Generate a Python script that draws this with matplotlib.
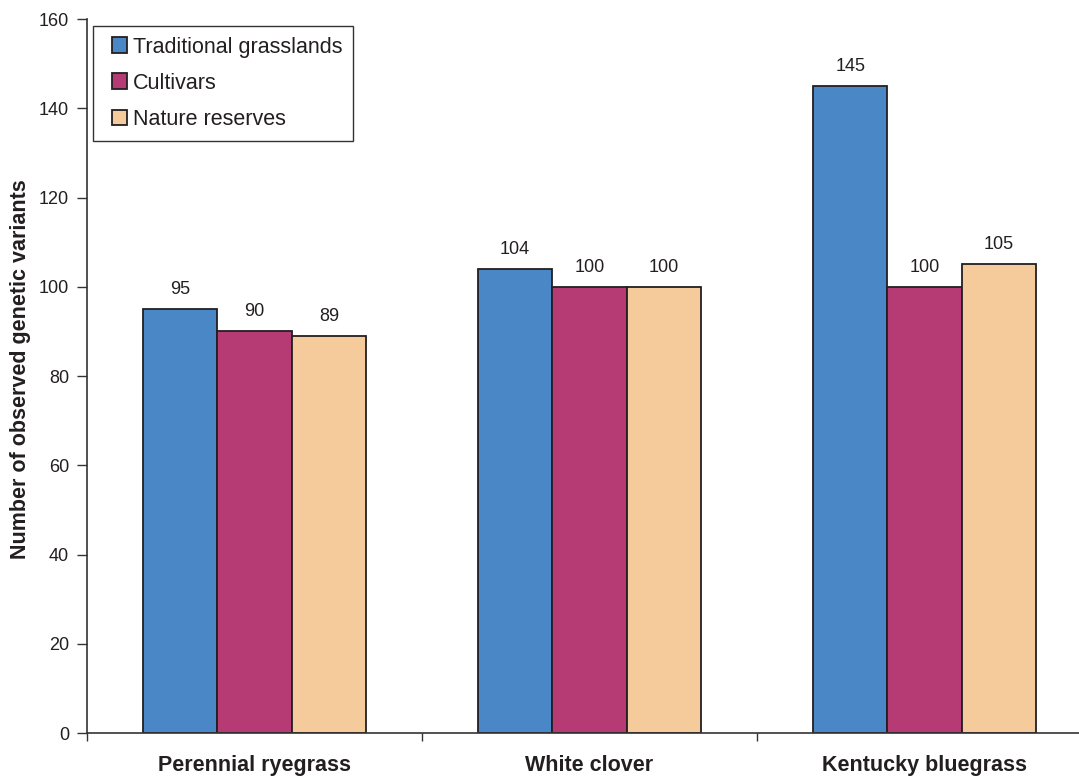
import numpy as np
import matplotlib
matplotlib.use("Agg")
import matplotlib.pyplot as plt
from matplotlib.patches import Rectangle
from matplotlib.container import BarContainer
from matplotlib.legend_handler import HandlerPatch, update_from_first_child

# Genetic variants observed per species and source
species = ["Perennial ryegrass", "White clover", "Kentucky bluegrass"]
sources = ["Traditional grasslands", "Cultivars", "Nature reserves"]
traditional = [95, 104, 145]
cultivars = [90, 100, 100]
reserves = [89, 100, 105]

colors = ["#4A87C6", "#B63A74", "#F6CB9B"]
edge = "#231F20"
text_c = "#231F20"

plt.rcParams["font.family"] = ["Liberation Sans", "DejaVu Sans"]

W, H = 1079, 778
fig = plt.figure(figsize=(W / 100, H / 100), dpi=100)
ax = fig.add_axes([87 / W, 45 / H, 1005 / W, 714 / H])

x = np.arange(len(species))
width = 0.222
for i, (vals, name, c) in enumerate(zip([traditional, cultivars, reserves], sources, colors)):
    pos = x + (i - 1) * width
    bars = ax.bar(pos, vals, width, color=c, edgecolor=edge, linewidth=1.3, label=name, zorder=2)
    for b, v in zip(bars, vals):
        ax.annotate(f"{v}", (b.get_x() + b.get_width() / 2, v), xytext=(0, 8),
                    textcoords="offset points", ha="center", va="bottom",
                    fontsize=13, color=text_c)

ax.set_xlim(-0.5, 2.5)
ax.set_ylim(0, 160)
ax.set_yticks(np.arange(0, 161, 20))
ax.set_xticks(x)
ax.set_xticklabels(species, fontsize=15.5, fontweight="bold", color=text_c)
ax.set_xticks([-0.5, 0.5, 1.5, 2.5], minor=True)
ax.tick_params(axis="x", which="major", length=0, pad=16)
ax.tick_params(axis="x", which="minor", length=6, width=1, color="#333333", direction="out")
ax.tick_params(axis="y", length=7, width=1, color="#333333", labelsize=13,
               labelcolor=text_c, pad=6)

for s in ["top", "right"]:
    ax.spines[s].set_visible(False)
for s in ["left", "bottom"]:
    ax.spines[s].set_color("#333333")
    ax.spines[s].set_linewidth(1.2)

ax.set_ylabel("Number of observed genetic variants", fontsize=15.5, fontweight="bold",
              color=text_c)
ax.yaxis.set_label_coords(-0.056, 0.51)


def square_patch(legend, orig_handle, xdescent, ydescent, width, height, fontsize):
    # square swatch pushed to the right end of the handle box
    return Rectangle((-xdescent + width - height, -ydescent), height, height)


leg = ax.legend(loc="upper left", bbox_to_anchor=(6 / 1005, 1 - 7 / 714), borderaxespad=0,
                fontsize=15.5, handlelength=1.1, handleheight=0.75, handletextpad=0.25,
                labelspacing=0.7, borderpad=0.5, fancybox=False, framealpha=1,
                edgecolor="#333333",
                handler_map={BarContainer: HandlerPatch(patch_func=square_patch,
                                                        update_func=update_from_first_child)})
leg.get_frame().set_linewidth(1.0)
for t in leg.get_texts():
    t.set_color(text_c)

fig.savefig("out.png", dpi=100)
